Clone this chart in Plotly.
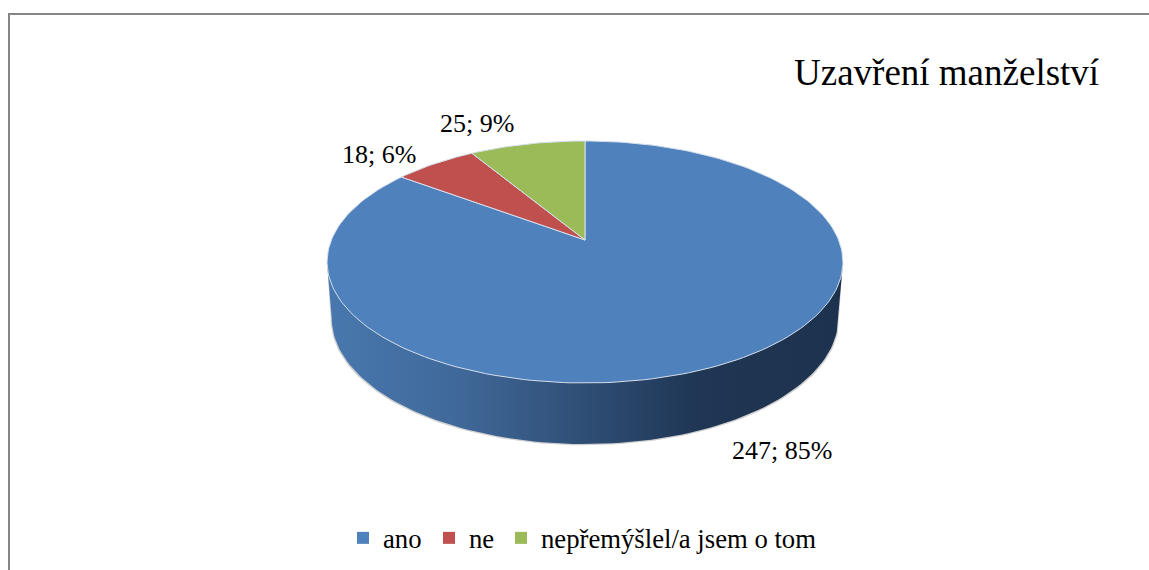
import math
import plotly.graph_objects as go

categories = ["ano", "ne", "nepřemýšlel/a jsem o tom"]
values = [247, 18, 25]
colors = ["#4F81BD", "#C0504D", "#9BBB59"]
title_text = "Uzavření manželství"

# projection of the tilted disc onto the pixel-based axes
CX, APEX_Y, B, A, K = 585.0, 240.0, 253.6, 117.0, 0.1818
total = sum(values)


def project(frac, sx=1.0, sy=1.0, apex=APEX_Y):
    t = 2 * math.pi * frac
    u, v = math.sin(t), math.cos(t)
    d = 1 + K * v
    return CX + sx * B * u / d, apex - sy * A * v / d


def arc(f0, f1, n=240, **kw):
    steps = max(2, int(n * abs(f1 - f0)) + 2)
    pts = [project(f0 + (f1 - f0) * i / (steps - 1), **kw) for i in range(steps)]
    return [p[0] for p in pts], [p[1] for p in pts]


fig = go.Figure()
BOTTOM = dict(sx=0.982, sy=1.04, apex=295.3)
WIDEST = math.acos(-K) / (2 * math.pi)  # fraction of the turn at the ellipse's widest point

# side wall outline, from the top disc's right extreme round the bottom to its left extreme
wx0, wy0 = arc(WIDEST, 1 - WIDEST, **BOTTOM)
wall_x = [843] + wx0 + [327, 843]
wall_y = [262] + wy0 + [262, 262]

# soft shadow under the side wall
sx, sy = arc(WIDEST, 1 - WIDEST, sx=0.986, sy=1.04, apex=296.6)
fig.add_trace(go.Scatter(x=[843] + sx + [327, 843], y=[262] + sy + [262, 262], mode="lines",
                         fill="toself", fillcolor="#d0d0d0",
                         line=dict(width=0), hoverinfo="skip", showlegend=False))

fig.add_trace(go.Scatter(
    x=wall_x, y=wall_y, mode="lines", fill="toself",
    fillgradient=dict(type="horizontal", colorscale=[
        [0.0, "#4878AE"], [0.25, "#40699A"], [0.5, "#2F4E75"], [0.72, "#1F3654"], [1.0, "#1D324E"]]),
    line=dict(width=0), hoverinfo="skip", showlegend=False))

# top wedges, clockwise from twelve o'clock
start = 0.0
for cat, val, col in zip(categories, values, colors):
    end = start + val / total
    ax, ay = arc(start, end)
    fig.add_trace(go.Scatter(x=[CX] + ax + [CX], y=[APEX_Y] + ay + [APEX_Y], mode="lines",
                             fill="toself", fillcolor=col, line=dict(color="#D5DFEC", width=1),
                             name=cat, text=f"{val}", hoverinfo="name+text", showlegend=False))
    start = end

# legend entries, one positioned legend per category
legend_x = [343, 429, 501]
legend_ids = ["legend", "legend2", "legend3"]
layout_legends = {}
for cat, col, lid, lx in zip(categories, colors, legend_ids, legend_x):
    fig.add_trace(go.Scatter(x=[None], y=[None], mode="markers", name=cat, legend=lid,
                             marker=dict(symbol="square", size=12, color=col)))
    layout_legends[lid] = dict(x=lx / 1149, xanchor="left", y=1 - 538 / 570, yanchor="middle",
                               font=dict(size=26.7), itemwidth=30, bgcolor="rgba(0,0,0,0)")

# data labels
label_pos = [(782, 450), (379, 154), (477, 123)]
for val, (x, y) in zip(values, label_pos):
    fig.add_annotation(x=x, y=y, text=f"{val}; {round(val / total * 100)}%", showarrow=False,
                       font=dict(size=26, color="#000000"))

fig.add_annotation(x=946, y=72, text=title_text, showarrow=False,
                   font=dict(size=37, color="#000000"))

fig.update_layout(
    width=1149, height=570, margin=dict(l=0, r=0, t=0, b=0),
    paper_bgcolor="white", plot_bgcolor="white",
    font=dict(family="Liberation Serif", color="#000000"),
    xaxis=dict(range=[0, 1149], visible=False, fixedrange=True),
    yaxis=dict(range=[570, 0], visible=False, fixedrange=True),
    shapes=[dict(type="path", path="M 9 570 L 9 14 L 1149 14", xref="x", yref="y",
                 line=dict(color="#868686", width=2))],
    **layout_legends,
)
fig.write_html("out.html", config={"displayModeBar": False},
               post_script="document.body.style.margin='0';")
